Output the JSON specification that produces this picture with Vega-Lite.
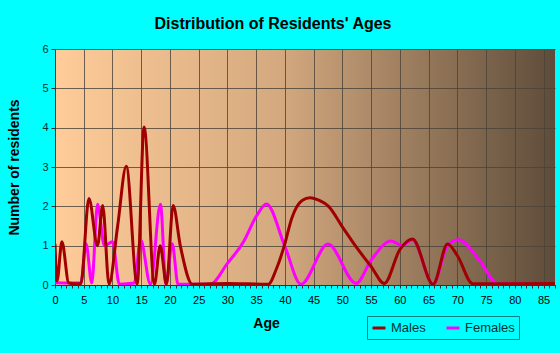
{
  "$schema": "https://vega.github.io/schema/vega-lite/v6.json",
  "width": 500,
  "height": 236,
  "autosize": {"type": "none"},
  "padding": {"left": 55, "top": 49, "right": 5, "bottom": 68},
  "background": "#00FFFF",
  "title": {
    "text": "Distribution of Residents' Ages",
    "anchor": "middle",
    "dx": -32,
    "offset": 11,
    "font": "Liberation Sans",
    "fontSize": 16,
    "fontWeight": "bold",
    "color": "#000000"
  },
  "config": {
    "view": {
      "stroke": null,
      "fill": {
        "gradient": "linear",
        "x1": 0, "y1": 0, "x2": 1, "y2": 0,
        "stops": [
          {"offset": 0, "color": "#FFCC99"},
          {"offset": 0.45, "color": "#D4A97F"},
          {"offset": 1, "color": "#5E4C3A"}
        ]
      }
    }
  },
  "data": {
    "values": [
      {"age": 0, "n": 0.06, "sex": "Females"},
      {"age": 4.5, "n": 0.05, "sex": "Females"},
      {"age": 5.4, "n": 1.05, "sex": "Females"},
      {"age": 6.4, "n": 0.05, "sex": "Females"},
      {"age": 7.4, "n": 2.05, "sex": "Females"},
      {"age": 8.6, "n": 1.0, "sex": "Females"},
      {"age": 10.0, "n": 1.1, "sex": "Females"},
      {"age": 11.2, "n": 0.02, "sex": "Females"},
      {"age": 13.8, "n": 0.05, "sex": "Females"},
      {"age": 14.9, "n": 1.15, "sex": "Females"},
      {"age": 16.6, "n": 0.02, "sex": "Females"},
      {"age": 18.35, "n": 2.05, "sex": "Females"},
      {"age": 19.3, "n": 0.02, "sex": "Females"},
      {"age": 20.4, "n": 1.05, "sex": "Females"},
      {"age": 21.4, "n": 0.02, "sex": "Females"},
      {"age": 27, "n": 0.02, "sex": "Females"},
      {"age": 30, "n": 0.55, "sex": "Females"},
      {"age": 32.8, "n": 1.1, "sex": "Females"},
      {"age": 35, "n": 1.74, "sex": "Females"},
      {"age": 36.8, "n": 2.06, "sex": "Females"},
      {"age": 40, "n": 0.98, "sex": "Females"},
      {"age": 42.8, "n": 0.02, "sex": "Females"},
      {"age": 47.5, "n": 1.04, "sex": "Females"},
      {"age": 52.4, "n": 0.04, "sex": "Females"},
      {"age": 55, "n": 0.63, "sex": "Females"},
      {"age": 58.5, "n": 1.12, "sex": "Females"},
      {"age": 60.4, "n": 1.0, "sex": "Females"},
      {"age": 62.2, "n": 1.15, "sex": "Females"},
      {"age": 65.8, "n": 0.02, "sex": "Females"},
      {"age": 68.3, "n": 1.0, "sex": "Females"},
      {"age": 70.2, "n": 1.15, "sex": "Females"},
      {"age": 74, "n": 0.6, "sex": "Females"},
      {"age": 77, "n": 0.03, "sex": "Females"},
      {"age": 87, "n": 0.03, "sex": "Females"},
      {"age": 0, "n": 1.05, "sex": "Males"},
      {"age": 0.35, "n": 0.1, "sex": "Males"},
      {"age": 1.2, "n": 1.1, "sex": "Males"},
      {"age": 2.4, "n": 0.05, "sex": "Males"},
      {"age": 3.5, "n": 0.03, "sex": "Males"},
      {"age": 4.5, "n": 0.03, "sex": "Males"},
      {"age": 5.9, "n": 2.2, "sex": "Males"},
      {"age": 7.4, "n": 1.0, "sex": "Males"},
      {"age": 8.3, "n": 2.02, "sex": "Males"},
      {"age": 9.4, "n": 0.02, "sex": "Males"},
      {"age": 10.9, "n": 1.5, "sex": "Males"},
      {"age": 12.4, "n": 3.02, "sex": "Males"},
      {"age": 14.3, "n": 0.02, "sex": "Males"},
      {"age": 15.5, "n": 4.02, "sex": "Males"},
      {"age": 17.3, "n": 0.02, "sex": "Males"},
      {"age": 18.3, "n": 1.0, "sex": "Males"},
      {"age": 19.4, "n": 0.02, "sex": "Males"},
      {"age": 20.55, "n": 2.02, "sex": "Males"},
      {"age": 21.8, "n": 1.0, "sex": "Males"},
      {"age": 23.9, "n": 0.02, "sex": "Males"},
      {"age": 30, "n": 0.04, "sex": "Males"},
      {"age": 37.1, "n": 0.02, "sex": "Males"},
      {"age": 38.5, "n": 0.4, "sex": "Males"},
      {"age": 39.9, "n": 1.0, "sex": "Males"},
      {"age": 41.2, "n": 1.7, "sex": "Males"},
      {"age": 43, "n": 2.15, "sex": "Males"},
      {"age": 44.4, "n": 2.22, "sex": "Males"},
      {"age": 46, "n": 2.15, "sex": "Males"},
      {"age": 47.6, "n": 2.0, "sex": "Males"},
      {"age": 50, "n": 1.48, "sex": "Males"},
      {"age": 52.6, "n": 0.93, "sex": "Males"},
      {"age": 55, "n": 0.47, "sex": "Males"},
      {"age": 57.3, "n": 0.04, "sex": "Males"},
      {"age": 60, "n": 0.9, "sex": "Males"},
      {"age": 62.2, "n": 1.17, "sex": "Males"},
      {"age": 65.8, "n": 0.02, "sex": "Males"},
      {"age": 68.3, "n": 1.04, "sex": "Males"},
      {"age": 70, "n": 0.75, "sex": "Males"},
      {"age": 72.7, "n": 0.03, "sex": "Males"},
      {"age": 87, "n": 0.04, "sex": "Males"}
    ]
  },
  "mark": {"type": "line", "interpolate": "monotone", "strokeWidth": 3, "clip": true},
  "encoding": {
    "x": {
      "field": "age",
      "type": "quantitative",
      "scale": {"domain": [0, 87], "nice": false, "zero": false},
      "axis": {
        "title": "Age",
        "values": [0,1,2,3,4,5,6,7,8,9,10,11,12,13,14,15,16,17,18,19,20,21,22,23,24,25,26,27,28,29,30,31,32,33,34,35,36,37,38,39,40,41,42,43,44,45,46,47,48,49,50,51,52,53,54,55,56,57,58,59,60,61,62,63,64,65,66,67,68,69,70,71,72,73,74,75,76,77,78,79,80,81,82,83,84,85,86,87],
        "labelExpr": "datum.value % 5 == 0 ? datum.label : ''",
        "gridColor": "#4A4238",
        "gridOpacity": {"condition": {"test": "datum.value % 5 == 0", "value": 0.8}, "value": 0},
        "gridWidth": 1,
        "domainColor": "#333333",
        "tickColor": "#333333",
        "tickSize": 3,
        "labelFont": "Liberation Sans",
        "labelFontSize": 11,
        "labelColor": "#000000",
        "labelPadding": 6,
        "labelFlush": false,
        "labelOverlap": false,
        "titleFont": "Liberation Sans",
        "titleFontSize": 14,
        "titleFontWeight": "bold",
        "titleColor": "#000000",
        "titleX": 211,
        "titleY": 31
      }
    },
    "y": {
      "field": "n",
      "type": "quantitative",
      "scale": {"domain": [0, 6], "nice": false},
      "axis": {
        "title": "Number of residents",
        "values": [0,1,2,3,4,5,6],
        "gridColor": "#4A4238",
        "gridOpacity": 0.8,
        "domainColor": "#333333",
        "tickColor": "#333333",
        "tickSize": 4,
        "labelFont": "Liberation Sans",
        "labelFontSize": 11,
        "labelColor": "#003333",
        "labelPadding": 3,
        "titleFont": "Liberation Sans",
        "titleFontSize": 14,
        "titleFontWeight": "bold",
        "titleColor": "#000000",
        "titlePadding": 20
      }
    },
    "color": {
      "field": "sex",
      "type": "nominal",
      "scale": {"domain": ["Males", "Females"], "range": ["#A00000", "#FF00FF"]},
      "legend": {
        "title": null,
        "orient": "none",
        "legendX": 312,
        "legendY": 267,
        "direction": "horizontal",
        "symbolType": "stroke",
        "symbolSize": 169,
        "symbolStrokeWidth": 3,
        "labelFont": "Liberation Sans",
        "labelFontSize": 13,
        "labelColor": "#003333",
        "strokeColor": "#008080",
        "padding": 4,
        "columnPadding": 14
      }
    }
  }
}
